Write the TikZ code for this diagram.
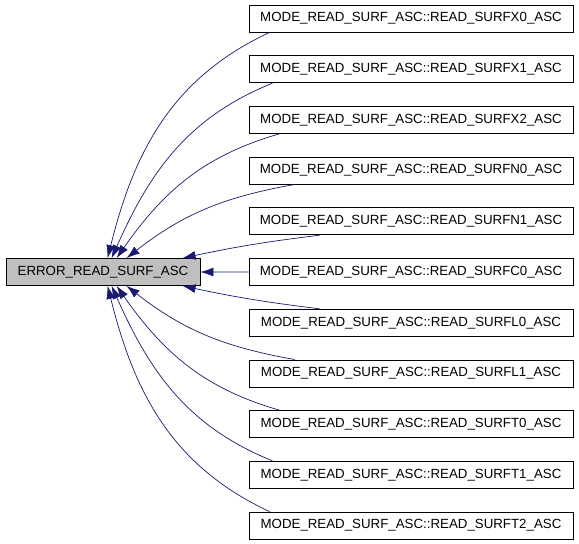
\documentclass[tikz,border=0pt]{standalone}
\usepackage{fontspec}
\setmainfont{Liberation Sans}
\usetikzlibrary{arrows.meta}
\usetikzlibrary{calc}
\definecolor{callblue}{HTML}{191970}
\definecolor{errgray}{HTML}{BFBFBF}

\begin{document}
\begin{tikzpicture}[x=1pt, y=-1pt,
    fn/.style = {draw=black, line width=0.8pt, fill=white, inner sep=0pt,
                 minimum width=324pt, minimum height=27pt,
                 font=\fontsize{13.3}{16}\selectfont},
    call/.style = {callblue, line width=0.7pt, >={Latex[length=13pt,width=9pt]}, ->}]

		\useasboundingbox (0,0) rectangle (579,544);
		\node[fn, fill=errgray, minimum width=194pt] (err) at (103,272) {ERROR\_READ\_SURF\_ASC};
%		
		\foreach \nm [count=\i from 0] in {X0,X1,X2,N0,N1,C0,L0,L1,T0,T1,T2} {
            \node[fn] (\nm) at (411, 18.5+50.7*\i) {MODE\_READ\_SURF\_ASC::READ\_SURF\nm\_ASC};
        }
		%%%%%%%%%%%%%%%%%%% callers above
		\draw[call] ($(X0.south west)+(21,0)$) to[out=205, in=76] ($(err.north west)+(102,0)$);
		\draw[call] ($(X1.south west)+(24,0)$) to[out=202, in=66] ($(err.north west)+(106,0)$);
		\draw[call] ($(X2.south west)+(31,0)$) to[out=196, in=55] ($(err.north west)+(111,0)$);
		\draw[call] ($(N0.south west)+(46,0)$) to[out=190, in=38] ($(err.north west)+(121,0)$);
		\draw[call] ($(N1.south west)+(71,0)$) to[out=187, in=12] ($(err.north west)+(177,0)$);
		%%%%%%%%%%%%%%%%%%% straight one
		\draw[call] (C0) -- (err);
		%%%%%%%%%%%%%%%%%%% callers below
		\draw[call] ($(L0.north west)+(71,0)$) to[out=173, in=-12] ($(err.south west)+(177,0)$);
		\draw[call] ($(L1.north west)+(46,0)$) to[out=170, in=-38] ($(err.south west)+(121,0)$);
		\draw[call] ($(T0.north west)+(31,0)$) to[out=164, in=-55] ($(err.south west)+(111,0)$);
		\draw[call] ($(T1.north west)+(24,0)$) to[out=158, in=-66] ($(err.south west)+(106,0)$);
		\draw[call] ($(T2.north west)+(21,0)$) to[out=155, in=-76] ($(err.south west)+(102,0)$);

\end{tikzpicture}
\end{document}
